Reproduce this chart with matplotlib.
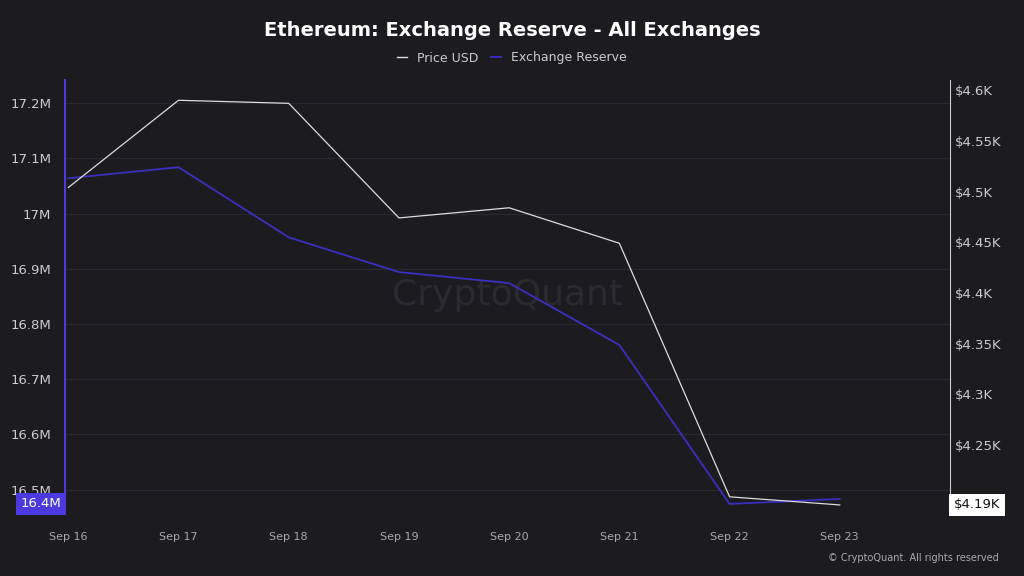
import matplotlib
matplotlib.use("Agg")
import matplotlib.pyplot as plt
from matplotlib.lines import Line2D

dates = ["Sep 16","Sep 17","Sep 18","Sep 19","Sep 20","Sep 21","Sep 22","Sep 23"]
reserve_m = [17.064,17.084,16.957,16.894,16.874,16.762,16.474,16.483]
price_k = [4.504,4.590,4.587,4.474,4.484,4.449,4.199,4.191]
left_ticks = [16.5,16.6,16.7,16.8,16.9,17.0,17.1,17.2]
left_labels = ["16.5M","16.6M","16.7M","16.8M","16.9M","17M","17.1M","17.2M"]
right_ticks = [4.25,4.3,4.35,4.4,4.45,4.5,4.55,4.6]
right_labels = ["$4.25K","$4.3K","$4.35K","$4.4K","$4.45K","$4.5K","$4.55K","$4.6K"]

bg = "#1c1b20"
fig = plt.figure(figsize=(10.24,5.76), dpi=100, facecolor=bg)
ax = fig.add_axes([65/1024, 1-510/576, (950-65)/1024, 430/576], facecolor=bg)
ax2 = ax.twinx()
x = list(range(len(dates)))
ax.plot(x, reserve_m, color="#3b2fc0", lw=1.3, zorder=3)
ax2.plot(x, price_k, color="#dddddd", lw=0.9, zorder=3)
ax.set_xlim(-0.03, 8.0)
ax.set_ylim(16.463, 17.242)
ax2.set_ylim(4.186, 4.610)
ax.set_yticks(left_ticks); ax.set_yticklabels(left_labels)
ax2.set_yticks(right_ticks); ax2.set_yticklabels(right_labels)
ax.set_xticks(x); ax.set_xticklabels(dates)
ax.grid(axis="y", color="#2a2930", lw=0.8)
for a in (ax, ax2):
    for s in a.spines.values(): s.set_visible(False)
    a.tick_params(colors="#cccccc", labelsize=9.5, length=0)
ax.tick_params(axis="x", colors="#aaaaaa", labelsize=8, pad=16)
ax.tick_params(axis="y", pad=10)
ax.spines["left"].set_visible(True); ax.spines["left"].set_color("#4b3ae0"); ax.spines["left"].set_linewidth(1.5)
ax2.spines["right"].set_visible(True); ax2.spines["right"].set_color("#cccccc")
ax.text(-0.004, 16.474, "16.4M", transform=ax.get_yaxis_transform(), ha="right", va="center",
        color="white", fontsize=9.5, bbox=dict(boxstyle="square,pad=0.35", fc="#4b3ae0", ec="none"))
ax2.text(1.004, 4.191, "$4.19K", transform=ax2.get_yaxis_transform(), ha="left", va="center",
        color="#111111", fontsize=9.5, bbox=dict(boxstyle="square,pad=0.35", fc="white", ec="none"))
ax.text(0.5, 0.5, "CryptoQuant", transform=ax.transAxes, ha="center", va="center",
        fontsize=26, color="#2b2a30", zorder=1)
fig.text(0.5, 1-30/576, "Ethereum: Exchange Reserve - All Exchanges", ha="center", va="center",
         color="white", fontsize=14, fontweight="bold")
h = [Line2D([0],[0],color="#dddddd",lw=1), Line2D([0],[0],color="#3b2fc0",lw=1.3)]
fig.legend(h, ["Price USD","Exchange Reserve"], loc="center", bbox_to_anchor=(0.5,1-58/576),
           ncol=2, frameon=False, labelcolor="#cccccc", fontsize=9, handlelength=0.8, columnspacing=1)
fig.text(1-25/1024, 1-558/576, "© CryptoQuant. All rights reserved", ha="right", va="center",
         color="#aaaaaa", fontsize=7)
fig.savefig("out.png", facecolor=bg)
